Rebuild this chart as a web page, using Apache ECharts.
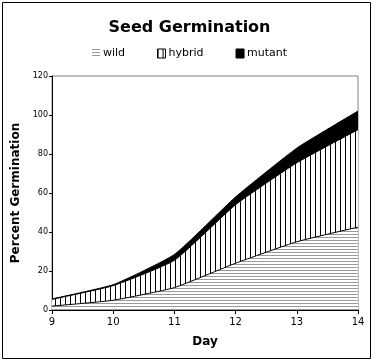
<!DOCTYPE html>
<html><head><meta charset="utf-8">
<script src="https://cdn.jsdelivr.net/npm/echarts@6/dist/echarts.min.js"></script>
<style>html,body{margin:0;padding:0;background:#fff}#c{width:379px;height:362px}</style>
</head><body><div id="c"></div>
<script>
var days = ['9', '10', '11', '12', '13', '14'];
var wild = [2, 5, 11.5, 24, 35, 42.5];
var hybrid = [3.5, 7.5, 14, 30, 40.5, 50];
var mutant = [0.2, 0.5, 3, 4, 7.5, 9.5];
var seriesNames = ['wild', 'hybrid', 'mutant'];
var yTicks = [0, 20, 40, 60, 80, 100, 120];

function makePattern(kind) {
  var c = document.createElement('canvas');
  var ctx = c.getContext('2d');
  if (kind === 'h') {
    c.width = 4; c.height = 3;
    ctx.fillStyle = '#fff'; ctx.fillRect(0, 0, 4, 3);
    ctx.fillStyle = '#9a9a9a'; ctx.fillRect(0, 0, 4, 1);
  } else {
    c.width = 5; c.height = 4;
    ctx.fillStyle = '#fff'; ctx.fillRect(0, 0, 5, 4);
    ctx.fillStyle = '#000'; ctx.fillRect(0, 0, 1, 4);
  }
  return c;
}
var hPat = {image: makePattern('h'), repeat: 'repeat'};
var vPat = {image: makePattern('v'), repeat: 'repeat'};
var fills = [hPat, vPat, '#000'];
var values = [wild, hybrid, mutant];

var chart = echarts.init(document.getElementById('c'), null, {renderer: 'canvas'});
var font = 'DejaVu Sans, Verdana, sans-serif';
chart.setOption({
  animation: false,
  backgroundColor: '#fff',
  title: {
    text: 'Seed Germination', left: 'center', top: 15,
    textStyle: {fontFamily: font, fontWeight: 'bold', fontSize: 16, color: '#000'}
  },
  legend: {
    top: 43, left: 'center', itemWidth: 8, itemHeight: 9, itemGap: 32,
    textStyle: {fontFamily: font, fontSize: 11, color: '#000', padding: [0, 0, 0, -2]},
    data: seriesNames.map(function (n, i) {
      return {name: n, icon: 'rect',
        itemStyle: {color: fills[i], borderColor: i === 0 ? 'transparent' : '#000', borderWidth: i === 0 ? 0 : 1}};
    })
  },
  grid: {left: 52, right: 21, top: 76, bottom: 52, show: true, borderColor: '#808080', borderWidth: 1, backgroundColor: '#fff'},
  xAxis: {
    type: 'category', data: days, boundaryGap: false,
    name: 'Day', nameLocation: 'middle', nameGap: 26,
    nameTextStyle: {fontFamily: font, fontWeight: 'bold', fontSize: 12, color: '#000'},
    axisLine: {lineStyle: {color: '#000', width: 1}},
    axisTick: {show: true, length: 4, lineStyle: {color: '#000'}},
    axisLabel: {fontFamily: font, fontSize: 10, color: '#000', margin: 7},
    splitLine: {show: false}
  },
  yAxis: {
    type: 'value', min: 0, max: 120, interval: 20,
    name: 'Percent Germination', nameLocation: 'middle', nameGap: 17,
    nameTextStyle: {fontFamily: font, fontWeight: 'bold', fontSize: 12, color: '#000'},
    axisLine: {show: true, lineStyle: {color: '#000', width: 1}},
    axisTick: {show: true, length: 3, lineStyle: {color: '#000'}},
    axisLabel: {fontFamily: font, fontSize: 8, color: '#000', margin: 4},
    splitLine: {show: false}
  },
  series: seriesNames.map(function (n, i) {
    return {
      name: n, type: 'line', stack: 'total', data: values[i], smooth: 0.15,
      symbol: 'none', z: 2,
      lineStyle: {color: '#000', width: 1},
      itemStyle: {color: fills[i]},
      areaStyle: {color: fills[i], opacity: 1}
    };
  }),
  graphic: [{
    type: 'rect', shape: {x: 2.5, y: 2.5, width: 368, height: 356},
    style: {fill: 'none', stroke: '#000', lineWidth: 1}, silent: true, z: 100
  }]
});
</script></body></html>
